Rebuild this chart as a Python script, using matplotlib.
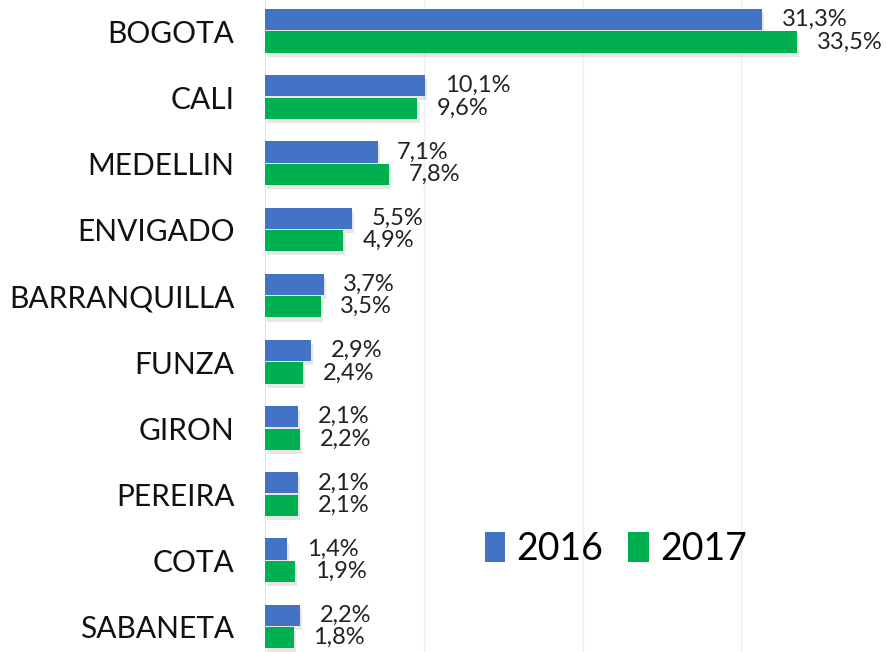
import matplotlib
matplotlib.use("Agg")
import matplotlib.pyplot as plt
import matplotlib.patheffects as pe
import numpy as np

# data (percent)
cities = ["BOGOTA", "CALI", "MEDELLIN", "ENVIGADO", "BARRANQUILLA",
          "FUNZA", "GIRON", "PEREIRA", "COTA", "SABANETA"]
vals_2016 = [31.3, 10.1, 7.1, 5.5, 3.7, 2.9, 2.1, 2.1, 1.4, 2.2]
vals_2017 = [33.5, 9.6, 7.8, 4.9, 3.5, 2.4, 2.2, 2.1, 1.9, 1.8]
series_names = ["2016", "2017"]

blue = "#4472C4"
green = "#00B050"

plt.rcParams['font.family'] = ['Lato', 'DejaVu Sans']

fig = plt.figure(figsize=(8.86, 6.52), dpi=100)
ax = fig.add_axes([265 / 886, 0, (886 - 265) / 886, 1])

y = np.arange(len(cities))
h = 0.32
shadow = [pe.SimplePatchShadow(offset=(1.5, -3), shadow_rgbFace="#888888", alpha=0.2), pe.Normal()]

b1 = ax.barh(y - 0.175, vals_2016, height=h, color=blue, label=series_names[0], zorder=3)
b2 = ax.barh(y + 0.165, vals_2017, height=h, color=green, label=series_names[1], zorder=3)

# value labels, comma decimal
def fmt(v):
    return f"{v:.1f}".replace(".", ",") + "%"

ax.bar_label(b1, labels=[fmt(v) for v in vals_2016], padding=14,
             fontsize=17, color="#222222")
ax.bar_label(b2, labels=[fmt(v) for v in vals_2017], padding=14,
             fontsize=17, color="#222222")

ax.set_xlim(0, 39.1)
ax.set_ylim(9.38, -0.47)
ax.set_xticks([10, 20, 30])
ax.tick_params(axis="x", length=0, labelbottom=False)
ax.grid(axis="x", color="#eeeeee", linewidth=1, zorder=0)

ax.set_yticks(y)
ax.set_yticklabels(cities, fontsize=21.5, color="#111111")
ax.tick_params(axis="y", length=0, pad=22)

for s in ["top", "right", "bottom"]:
    ax.spines[s].set_visible(False)
ax.spines["left"].set_color("#e4e4e4")

ax.legend(loc="upper left", bbox_to_anchor=(0.354, 0.185), ncol=2, frameon=False,
          fontsize=27, handlelength=0.55, handleheight=0.85, handletextpad=0.3,
          columnspacing=0.65, borderaxespad=0, borderpad=0)

# soft drop shadow on the bars only (added after the legend so the legend keys stay flat)
for bars in (b1, b2):
    for p in bars:
        p.set_path_effects(shadow)

fig.savefig("out.png", dpi=100, facecolor="white")
